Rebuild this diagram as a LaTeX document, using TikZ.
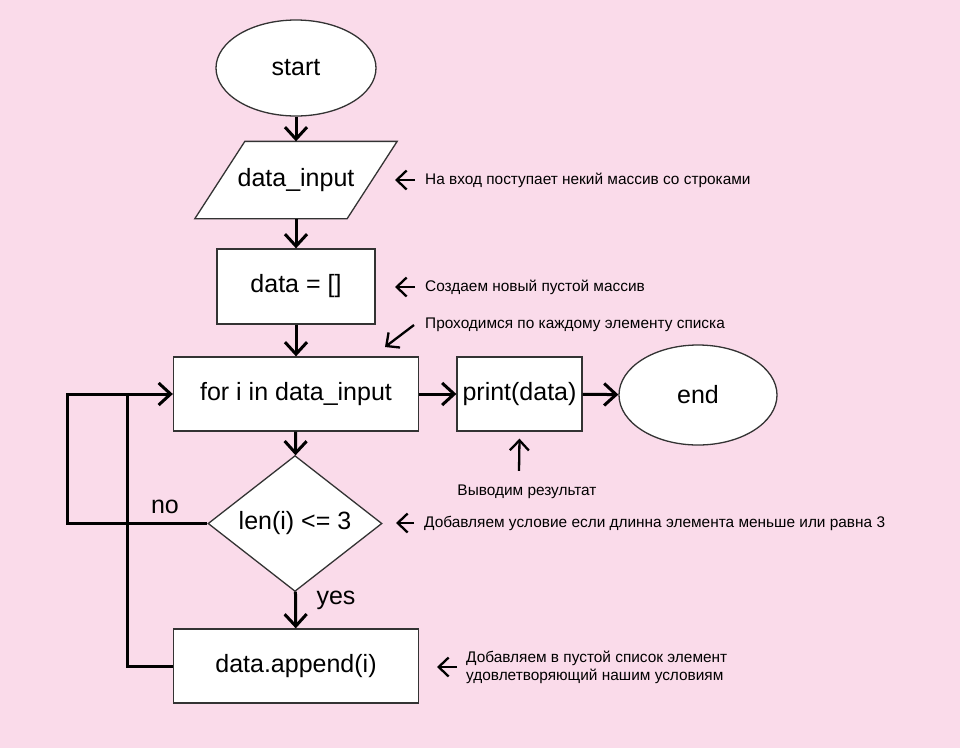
\documentclass[tikz,border=0pt]{standalone}
\usepackage{fontspec}
\setmainfont{Liberation Sans}
\usetikzlibrary{shapes.geometric,arrows.meta}
\definecolor{bgpink}{HTML}{FADBEA}
\pgfdeclarelayer{bg}
\pgfdeclarelayer{shapebg}
\pgfsetlayers{bg,shapebg,main}
\tikzset{
  shp/.style={draw=black!80, line width=1.3pt, fill=white, inner sep=0pt, font=\fontsize{25}{29}\selectfont},
  boxs/.style={shp, rectangle},
  oval/.style={shp, ellipse},
  flow/.style={line width=3pt, -{Straight Barb[length=12pt,width=22pt,line width=3pt]}},
  plain/.style={line width=3pt},
  ann/.style={line width=2.3pt, -{Straight Barb[length=10pt,width=19pt,line width=2.3pt]}},
  note/.style={font=\fontsize{15.4}{18}\selectfont, inner sep=0pt, anchor=west, align=left},
  lbl/.style={font=\fontsize{25}{29}\selectfont, inner sep=0pt}
}
\begin{document}
\begin{tikzpicture}[x=1pt,y=-1pt]
\begin{pgfonlayer}{bg}
\fill[bgpink] (0,0) rectangle (960,748);
\end{pgfonlayer}
\useasboundingbox (0,0) rectangle (960,748);
% shapes
\node[oval, minimum width=160pt, minimum height=96pt] (start) at (296,68) {start};
\node[shp, rectangle, draw=none, fill=none, minimum width=151pt, minimum height=76pt] (input) at (296,180) {data\_input};
\begin{pgfonlayer}{shapebg}
\draw[shp] ([xshift=25pt]input.north west) -- ([xshift=25pt]input.north east)
  -- ([xshift=-25pt]input.south east) -- ([xshift=-25pt]input.south west) -- cycle;
\end{pgfonlayer}
\node[boxs, minimum width=158pt, minimum height=75pt] (init) at (296,286.5) {data = []};
\node[boxs, minimum width=245pt, minimum height=74pt] (loop) at (296,394) {for i in data\_input};
\node[shp, diamond, minimum width=174pt, minimum height=124pt] (cond) at (295,523.5) {len(i) <= 3};
\node[boxs, minimum width=245pt, minimum height=74pt] (append) at (296,666) {data.append(i)};
\node[boxs, minimum width=125pt, minimum height=74pt] (print) at (519.5,394) {print(data)};
\node[oval, minimum width=158pt, minimum height=100pt] (end) at (698,395) {end};
% labels
\node[lbl] (no) at (165,507) {no};
\node[lbl] (yes) at (336,600) {yes};
% flow connectors
\draw[flow] (start) -- (input);
\draw[flow] (input) -- (init);
\draw[flow] (init) -- (loop);
\draw[flow] (loop) -- (cond);
\draw[flow] (cond) -- (append);
\draw[flow] (loop) -- (print);
\draw[flow] (print) -- (end);
\coordinate (nocorner) at (67,523.5);
\coordinate (join) at (127,394);
\draw[flow] (cond.west) -- (nocorner) |- (loop.west);
\draw[plain] (append.west) -| (join);
% annotations
\node[note] (n1) at (425,180) {На вход поступает некий массив со строками};
\node[note] (n2) at (425,287) {Создаем новый пустой массив};
\node[note] (n3) at (425,325) {Проходимся по каждому элементу списка};
\node[note, anchor=center] (n4) at (527,492) {Выводим результат};
\node[note] (n5) at (424,523) {Добавляем условие если длинна элемента меньше или равна 3};
\node[note] (n6) at (466,667) {Добавляем в пустой список элемент\\удовлетворяющий нашим условиям};
\draw[ann] ([xshift=-10pt]n1.west) -- ([xshift=-30pt]n1.west);
\draw[ann] ([xshift=-10pt]n2.west) -- ([xshift=-30pt]n2.west);
\draw[ann] ([xshift=-11pt]n3.west) -- ++(-29,22);
\draw[ann] ([xshift=-8pt,yshift=14pt]n4.north) -- ([yshift=-7pt]print.south);
\draw[ann] ([xshift=-10pt]n5.west) -- ([xshift=-28pt]n5.west);
\draw[ann] ([xshift=-9pt]n6.west) -- ([xshift=-29pt]n6.west);
\end{tikzpicture}
\end{document}
